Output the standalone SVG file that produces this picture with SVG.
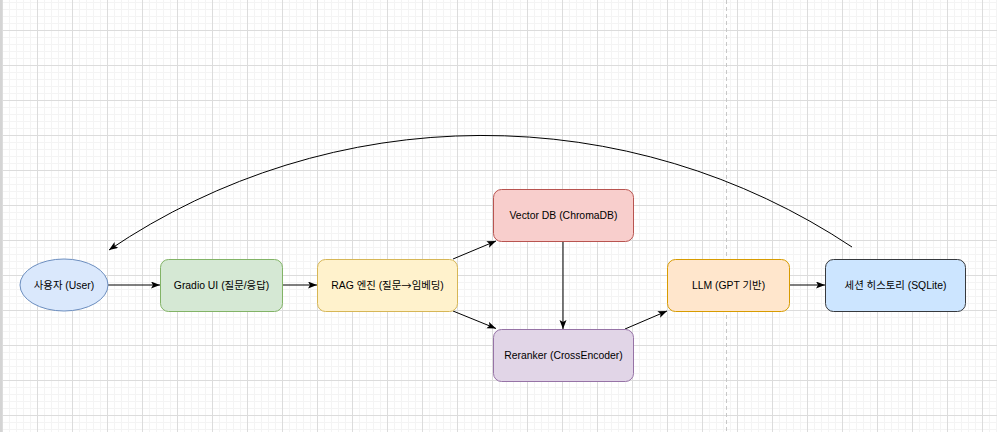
<svg xmlns="http://www.w3.org/2000/svg" width="997" height="432" viewBox="0 0 997 432">
<style>
  .lbl { font-family: "Liberation Sans", "Noto Sans CJK KR", sans-serif; font-size: 10.4px; fill: #000; text-anchor: middle; dominant-baseline: central; }
  .edge { fill: none; stroke: #000; stroke-width: 1; }
</style>
<defs>
  <pattern id="minor" width="7" height="7" patternUnits="userSpaceOnUse" x="2" y="2">
    <path d="M0.5,0 V7 M0,0.5 H7" stroke="#f4f4f4" stroke-width="1" fill="none"/>
  </pattern>
  <pattern id="major" width="35" height="35" patternUnits="userSpaceOnUse" x="2" y="30">
    <path d="M0.5,0 V35 M0,0.5 H35" stroke="#dcdcdc" stroke-width="1" fill="none"/>
  </pattern>
  <marker id="arr" markerUnits="userSpaceOnUse" markerWidth="10" markerHeight="8" refX="9" refY="3.5" orient="auto">
    <path d="M0,0 L9,3.5 L0,7 L2,3.5 z" fill="#000"/>
  </marker>
</defs>
<g id="background">
  <rect width="997" height="432" fill="#ffffff"/>
  <rect width="997" height="432" fill="url(#minor)"/>
  <rect width="997" height="432" fill="url(#major)"/>
  <rect x="0" y="0" width="2" height="432" fill="#d4d4d4"/>
  <line x1="726.5" y1="0" x2="726.5" y2="432" stroke="#c8c8c8" stroke-width="1" stroke-dasharray="4 3"/>
</g>
<g id="connectors">
  <line class="edge" x1="108" y1="285" x2="160" y2="285" marker-end="url(#arr)"/>
  <line class="edge" x1="282" y1="285" x2="317" y2="285" marker-end="url(#arr)"/>
  <line class="edge" x1="453" y1="259" x2="496" y2="241" marker-end="url(#arr)"/>
  <line class="edge" x1="453" y1="311" x2="496" y2="328.5" marker-end="url(#arr)"/>
  <line class="edge" x1="563" y1="241" x2="563" y2="329" marker-end="url(#arr)"/>
  <line class="edge" x1="625" y1="329" x2="667" y2="311" marker-end="url(#arr)"/>
  <line class="edge" x1="790" y1="285" x2="825" y2="285" marker-end="url(#arr)"/>
  <path class="edge" d="M852,247 A 667 667 0 0 0 109,250" marker-end="url(#arr)"/>
</g>
<g id="user">
  <ellipse cx="64" cy="285" rx="44" ry="26" fill="#dae8fc" stroke="#6c8ebf"/>
  <text class="lbl" x="64" y="285">사용자 (User)</text>
</g>
<g id="gradio">
  <rect x="160.5" y="259.5" width="122" height="52" rx="8" fill="#d5e8d4" stroke="#82b366"/>
  <text class="lbl" x="221.5" y="285">Gradio UI (질문/응답)</text>
</g>
<g id="rag">
  <rect x="317.5" y="259.5" width="140" height="52" rx="8" fill="#fff2cc" stroke="#d6b656"/>
  <text class="lbl" x="387.5" y="285">RAG 엔진 (질문<tspan font-family="'Noto Sans CJK KR', sans-serif">→</tspan>임베딩)</text>
</g>
<g id="vectordb">
  <rect x="493.5" y="189.5" width="140" height="52" rx="8" fill="#f8cecc" stroke="#b85450"/>
  <text class="lbl" x="563.5" y="215">Vector DB (ChromaDB)</text>
</g>
<g id="reranker">
  <rect x="493.5" y="329.5" width="140" height="52" rx="8" fill="#e1d5e7" stroke="#9673a6"/>
  <text class="lbl" x="563.5" y="355">Reranker (CrossEncoder)</text>
</g>
<g id="llm">
  <rect x="667.5" y="259.5" width="122" height="52" rx="8" fill="#ffe6cc" stroke="#d79b00"/>
  <text class="lbl" x="728.5" y="285">LLM (GPT 기반)</text>
</g>
<g id="session">
  <rect x="825.5" y="259.5" width="140" height="52" rx="8" fill="#cce5ff" stroke="#36393d"/>
  <text class="lbl" x="895.5" y="285">세션 히스토리 (SQLite)</text>
</g>
</svg>
